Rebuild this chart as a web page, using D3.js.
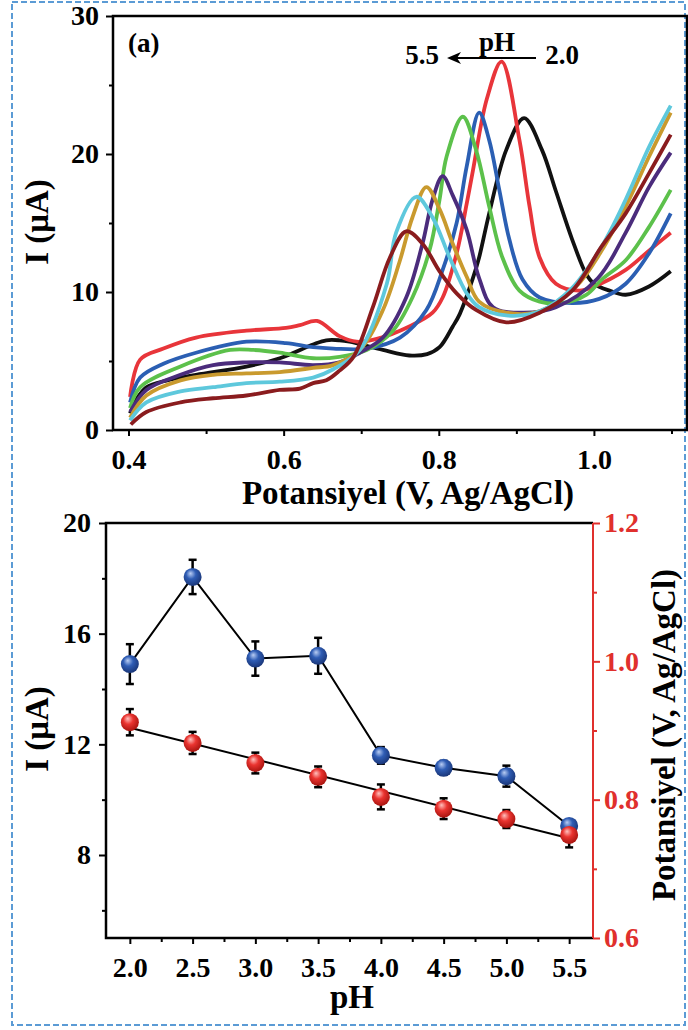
<!DOCTYPE html>
<html>
<head>
<meta charset="utf-8">
<script src="https://cdn.jsdelivr.net/npm/d3@7"></script>
<style>
  body { margin: 0; background: #fff; }
  svg { display: block; }
  svg text { font-family: "Liberation Serif", "Times New Roman", serif; font-weight: bold; }
</style>
</head>
<body>
<svg id="fig" width="688" height="1030"></svg>
<script>
// ---- panel (a): voltammograms, [potential V, current uA] ----
const cvPH20 = [[0.402,1.2],[0.41,2.2],[0.423,3.1],[0.45,3.6],[0.487,4.0],[0.552,4.6],[0.595,5.2],[0.638,6.2],[0.655,6.5],[0.672,6.5],[0.685,6.4],[0.728,5.8],[0.762,5.4],[0.785,5.5],[0.801,6.0],[0.818,7.5],[0.827,8.4],[0.844,11.0],[0.852,12.5],[0.865,15.7],[0.887,20.3],[0.91,22.6],[0.933,20.3],[0.951,17.3],[0.972,13.8],[0.99,11.3],[1.0,10.6],[1.02,10.1],[1.041,9.8],[1.071,10.4],[1.099,11.5]];
const cvPH25 = [[0.402,2.4],[0.415,5.1],[0.445,5.9],[0.487,6.7],[0.552,7.2],[0.603,7.4],[0.621,7.6],[0.643,7.9],[0.672,6.8],[0.694,6.4],[0.72,6.6],[0.762,7.5],[0.792,8.5],[0.805,9.6],[0.823,12.8],[0.836,16.4],[0.844,18.8],[0.862,24.0],[0.881,26.7],[0.904,21.0],[0.917,16.2],[0.93,12.5],[0.951,10.6],[0.981,10.1],[1.0,10.4],[1.041,11.6],[1.071,13.0],[1.099,14.3]];
const cvPH30 = [[0.402,2.0],[0.415,3.8],[0.445,4.8],[0.487,5.6],[0.552,6.4],[0.603,6.3],[0.638,6.0],[0.664,5.9],[0.707,5.9],[0.75,6.7],[0.784,8.7],[0.805,11.6],[0.823,15.0],[0.836,19.1],[0.852,23.0],[0.865,21.0],[0.878,17.4],[0.891,13.8],[0.908,10.9],[0.93,9.6],[0.972,9.2],[1.007,9.5],[1.041,10.6],[1.071,12.8],[1.099,15.7]];
const cvPH35 = [[0.402,1.6],[0.415,3.1],[0.467,4.6],[0.531,5.8],[0.561,5.8],[0.595,5.6],[0.638,5.2],[0.672,5.3],[0.707,5.8],[0.741,7.2],[0.766,9.6],[0.788,13.0],[0.801,16.7],[0.81,19.8],[0.831,22.7],[0.848,20.3],[0.865,16.2],[0.882,12.5],[0.904,10.1],[0.93,9.3],[0.959,9.2],[0.99,9.8],[1.01,10.9],[1.041,12.3],[1.071,14.7],[1.099,17.4]];
const cvPH40 = [[0.402,1.3],[0.423,2.9],[0.467,4.0],[0.509,4.7],[0.552,4.9],[0.595,4.9],[0.638,4.7],[0.672,4.9],[0.698,5.6],[0.728,6.7],[0.758,9.6],[0.779,13.5],[0.792,16.7],[0.805,18.4],[0.818,17.0],[0.836,14.5],[0.852,11.0],[0.87,8.9],[0.908,8.5],[0.951,8.9],[1.005,11.0],[1.041,14.3],[1.071,17.6],[1.099,20.1]];
const cvPH45 = [[0.402,0.9],[0.423,2.5],[0.467,3.6],[0.509,4.0],[0.552,4.1],[0.595,4.2],[0.638,4.5],[0.664,4.7],[0.698,5.8],[0.728,8.7],[0.75,12.3],[0.766,15.4],[0.784,17.6],[0.801,16.0],[0.818,13.5],[0.836,11.1],[0.852,9.3],[0.887,8.5],[0.93,8.6],[0.977,10.4],[1.01,13.0],[1.041,16.2],[1.071,19.8],[1.099,23.0]];
const cvPH50 = [[0.402,0.7],[0.423,2.0],[0.467,2.8],[0.509,3.1],[0.552,3.4],[0.595,3.5],[0.638,3.8],[0.664,4.4],[0.698,5.8],[0.733,10.6],[0.745,14.3],[0.771,16.9],[0.792,15.4],[0.814,12.5],[0.836,9.9],[0.852,8.9],[0.887,8.3],[0.93,8.6],[0.972,10.3],[1.01,13.3],[1.041,16.7],[1.071,20.5],[1.099,23.5]];
const cvPH55 = [[0.403,0.4],[0.423,1.3],[0.467,2.0],[0.509,2.3],[0.552,2.5],[0.595,2.9],[0.621,3.0],[0.638,3.4],[0.655,3.6],[0.672,4.3],[0.69,5.3],[0.715,8.9],[0.737,12.5],[0.758,14.4],[0.779,13.5],[0.801,11.5],[0.823,9.9],[0.848,8.7],[0.887,7.8],[0.93,8.5],[0.972,10.1],[1.01,13.3],[1.041,15.7],[1.071,18.6],[1.099,21.4]];

const cvSeries = [cvPH20, cvPH25, cvPH30, cvPH35, cvPH40, cvPH45, cvPH50, cvPH55];
const cvColors = ["#111111", "#e8353a", "#2b5fb3", "#5cc14b", "#4b2c7c", "#c99a2e", "#5ec8dc", "#8a1c1e"];

const topXMajor = [0.4, 0.6, 0.8, 1.0];
const topXMinor = [0.5, 0.7, 0.9, 1.1];
const topYMajor = [0, 10, 20, 30];
const topYMinor = [5, 15, 25];

// ---- panel (b): peak current and potential vs pH ----
const phValues = [2.0, 2.5, 3.0, 3.5, 4.0, 4.5, 5.0, 5.5];
const peakCurrent = [14.9, 18.05, 15.1, 15.2, 11.6, 11.15, 10.85, 9.05];
const currentErr = [0.72, 0.62, 0.62, 0.65, 0.3, 0.25, 0.38, 0.2];
const peakPotential = [0.912, 0.882, 0.853, 0.833, 0.804, 0.787, 0.772, 0.749];
const potentialErr = [0.019, 0.016, 0.015, 0.015, 0.018, 0.015, 0.013, 0.018];

const botXMajor = [2.0, 2.5, 3.0, 3.5, 4.0, 4.5, 5.0, 5.5];
const botXMinor = [2.25, 2.75, 3.25, 3.75, 4.25, 4.75, 5.25];
const botYMajor = [8, 12, 16, 20];
const botYMinor = [6, 10, 14, 18];
const botY2Major = [0.6, 0.8, 1.0, 1.2];
const botY2Minor = [0.7, 0.9, 1.1];

const svg = d3.select("#fig");
const RED = "#e0302d";
const SERIF = "Liberation Serif, Times New Roman, serif";

// dashed outline around the figure
svg.append("rect")
  .attr("x", 12).attr("y", 2).attr("width", 673).attr("height", 1023)
  .attr("fill", "none").attr("stroke", "#5b9bd5").attr("stroke-width", 2)
  .attr("stroke-dasharray", "6,3");

const defs = svg.append("defs");
function ball(id, light, mid, dark) {
  const g = defs.append("radialGradient").attr("id", id)
    .attr("cx", "45%").attr("cy", "40%").attr("r", "60%").attr("fx", "38%").attr("fy", "30%");
  g.append("stop").attr("offset", "0%").attr("stop-color", light);
  g.append("stop").attr("offset", "45%").attr("stop-color", mid);
  g.append("stop").attr("offset", "100%").attr("stop-color", dark);
}
ball("ballBlue", "#b9cdf3", "#2f5db5", "#1a3678");
ball("ballRed", "#ffc0bd", "#ea3430", "#a8140f");

// helper: ticks only (no domain), then restyle
function ticks(g, axis) {
  g.call(axis);
  g.attr("font-family", SERIF).attr("font-size", 28).attr("font-weight", "bold");
  g.select(".domain").remove();
  g.selectAll("line").attr("stroke", "currentColor").attr("stroke-width", 2);
  g.selectAll("text")
    .attr("font-family", SERIF)
    .style("font-family", SERIF)
    .attr("font-size", 28).attr("font-weight", "bold");
}

// ================= panel (a) =================
const xTop = d3.scaleLinear().domain([0.38, 1.12]).range([113, 687]);
const yTop = d3.scaleLinear().domain([0, 30]).range([430, 16]);

const cvLine = d3.line()
  .x(d => xTop(d[0]))
  .y(d => yTop(d[1]))
  .curve(d3.curveCatmullRom.alpha(0.5));

cvSeries.forEach((s, i) => {
  svg.append("path")
    .attr("d", cvLine(s))
    .attr("fill", "none")
    .attr("stroke", cvColors[i])
    .attr("stroke-width", 3.8)
    .attr("stroke-linejoin", "round");
});

// x ticks
ticks(svg.append("g").attr("transform", "translate(0,430)"),
  d3.axisBottom(xTop).tickValues(topXMajor).tickSize(6).tickPadding(13).tickFormat(d3.format(".1f")));
ticks(svg.append("g").attr("transform", "translate(0,430)"),
  d3.axisBottom(xTop).tickValues(topXMinor).tickSize(4).tickFormat(""));
// y ticks
ticks(svg.append("g").attr("transform", "translate(113,0)"),
  d3.axisLeft(yTop).tickValues(topYMajor).tickSize(7).tickPadding(7).tickFormat(d3.format("d")));
ticks(svg.append("g").attr("transform", "translate(113,0)"),
  d3.axisLeft(yTop).tickValues(topYMinor).tickSize(4).tickFormat(""));

svg.append("rect")
  .attr("x", 113).attr("y", 16).attr("width", 687 - 113).attr("height", 430 - 16)
  .attr("fill", "none").attr("stroke", "#000").attr("stroke-width", 2.5);

svg.append("text").attr("x", 128).attr("y", 52).attr("font-size", 27).text("(a)");

// pH arrow annotation
svg.append("text").attr("x", 497).attr("y", 51).attr("font-size", 27).attr("text-anchor", "middle").text("pH");
svg.append("text").attr("x", 422).attr("y", 64).attr("font-size", 27).attr("text-anchor", "middle").text("5.5");
svg.append("text").attr("x", 562).attr("y", 64).attr("font-size", 27).attr("text-anchor", "middle").text("2.0");
svg.append("line").attr("x1", 536).attr("x2", 455).attr("y1", 58).attr("y2", 58)
  .attr("stroke", "#000").attr("stroke-width", 2);
svg.append("path").attr("d", "M447,58 L461,52 L457,58 L461,64 Z").attr("fill", "#000");

svg.append("text").attr("x", 408).attr("y", 504).attr("font-size", 33).attr("text-anchor", "middle")
  .text("Potansiyel (V, Ag/AgCl)");
svg.append("text").attr("transform", "translate(48,222) rotate(-90)").attr("font-size", 33)
  .attr("text-anchor", "middle").text("I (μA)");

// ================= panel (b) =================
const xBot = d3.scaleLinear().domain([1.81, 5.69]).range([106, 593]);
const yI = d3.scaleLinear().domain([5, 20]).range([938, 523]);
const yV = d3.scaleLinear().domain([0.6, 1.2]).range([938, 523]);

ticks(svg.append("g").attr("transform", "translate(0,938)"),
  d3.axisBottom(xBot).tickValues(botXMajor).tickSize(6).tickPadding(13).tickFormat(d3.format(".1f")));
ticks(svg.append("g").attr("transform", "translate(0,938)"),
  d3.axisBottom(xBot).tickValues(botXMinor).tickSize(4).tickFormat(""));
ticks(svg.append("g").attr("transform", "translate(106,0)"),
  d3.axisLeft(yI).tickValues(botYMajor).tickSize(7).tickPadding(8).tickFormat(d3.format("d")));
ticks(svg.append("g").attr("transform", "translate(106,0)"),
  d3.axisLeft(yI).tickValues(botYMinor).tickSize(4).tickFormat(""));
const r1 = svg.append("g").attr("transform", "translate(593,0)").attr("color", RED);
ticks(r1, d3.axisRight(yV).tickValues(botY2Major).tickSize(7).tickPadding(4).tickFormat(d3.format(".1f")));
const r2 = svg.append("g").attr("transform", "translate(593,0)").attr("color", RED);
ticks(r2, d3.axisRight(yV).tickValues(botY2Minor).tickSize(4).tickFormat(""));

// frame: black left/top/bottom, red right
svg.append("path").attr("d", "M593,523 L106,523 L106,938 L593,938")
  .attr("fill", "none").attr("stroke", "#000").attr("stroke-width", 2.5);
svg.append("line").attr("x1", 593).attr("x2", 593).attr("y1", 523).attr("y2", 938)
  .attr("stroke", RED).attr("stroke-width", 2);

const currentPts = phValues.map((p, i) => ({ x: p, y: peakCurrent[i], e: currentErr[i] }));
const potentialPts = phValues.map((p, i) => ({ x: p, y: peakPotential[i], e: potentialErr[i] }));

// peak current: connected points
svg.append("path")
  .attr("d", d3.line().x(d => xBot(d.x)).y(d => yI(d.y))(currentPts))
  .attr("fill", "none").attr("stroke", "#000").attr("stroke-width", 2);

// peak potential: least-squares line through the points
const mx = d3.mean(potentialPts, d => d.x), my = d3.mean(potentialPts, d => d.y);
const slope = d3.sum(potentialPts, d => (d.x - mx) * (d.y - my)) / d3.sum(potentialPts, d => (d.x - mx) ** 2);
const fitEnds = d3.extent(phValues).map(p => ({ x: p, y: my + slope * (p - mx) }));
svg.append("path")
  .attr("d", d3.line().x(d => xBot(d.x)).y(d => yV(d.y))(fitEnds))
  .attr("fill", "none").attr("stroke", "#000").attr("stroke-width", 2);

function errorBars(pts, yScale) {
  const g = svg.append("g").attr("stroke", "#000").attr("stroke-width", 2.5);
  pts.forEach(d => {
    const cx = xBot(d.x), y0 = yScale(d.y - d.e), y1 = yScale(d.y + d.e);
    g.append("line").attr("x1", cx).attr("x2", cx).attr("y1", y0).attr("y2", y1);
    g.append("line").attr("x1", cx - 4).attr("x2", cx + 4).attr("y1", y0).attr("y2", y0);
    g.append("line").attr("x1", cx - 4).attr("x2", cx + 4).attr("y1", y1).attr("y2", y1);
  });
}
errorBars(currentPts, yI);
errorBars(potentialPts, yV);

svg.append("g").selectAll("circle").data(currentPts).join("circle")
  .attr("cx", d => xBot(d.x)).attr("cy", d => yI(d.y)).attr("r", 9)
  .attr("fill", "url(#ballBlue)");
svg.append("g").selectAll("circle").data(potentialPts).join("circle")
  .attr("cx", d => xBot(d.x)).attr("cy", d => yV(d.y)).attr("r", 9)
  .attr("fill", "url(#ballRed)");

svg.append("text").attr("x", 352).attr("y", 1008).attr("font-size", 33).attr("text-anchor", "middle").text("pH");
svg.append("text").attr("transform", "translate(48,729) rotate(-90)").attr("font-size", 33)
  .attr("text-anchor", "middle").text("I (μA)");
svg.append("text").attr("transform", "translate(675,735) rotate(-90)").attr("font-size", 33)
  .attr("text-anchor", "middle").text("Potansiyel (V, Ag/AgCl)");
</script>
</body>
</html>
